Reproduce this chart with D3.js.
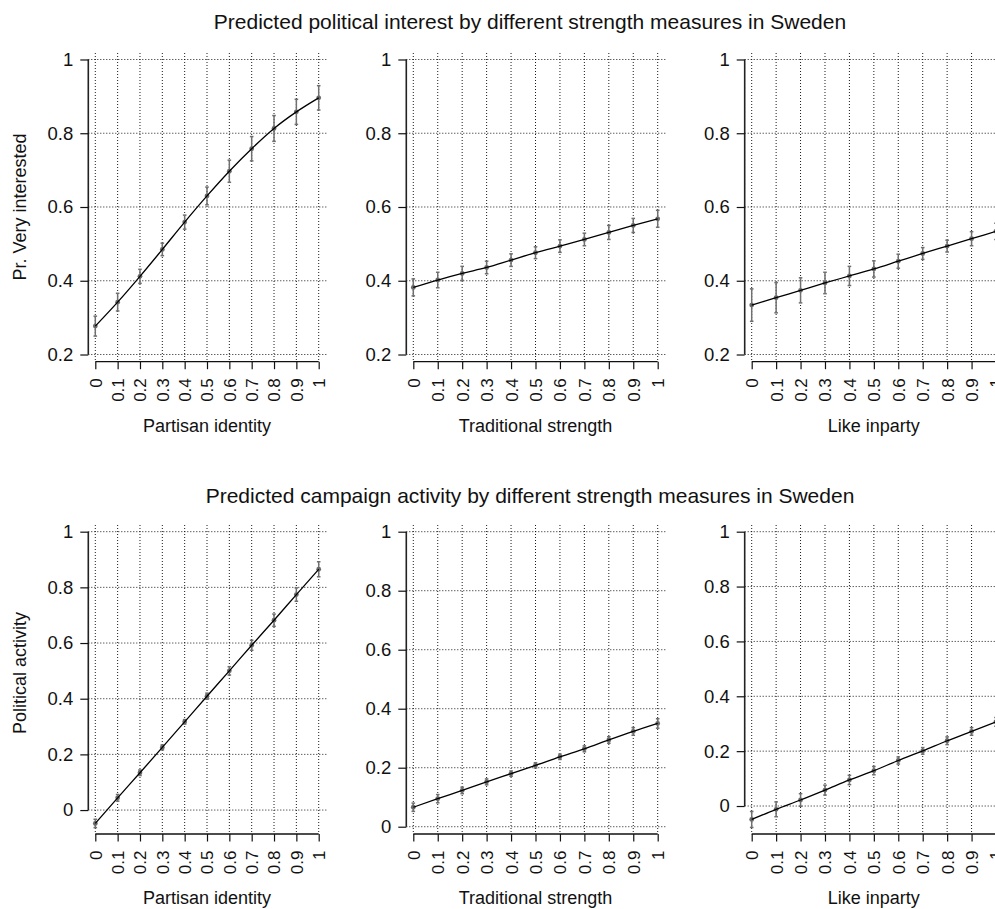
<!DOCTYPE html>
<html>
<head>
<meta charset="utf-8">
<script src="https://cdn.jsdelivr.net/npm/d3@7"></script>
<style>
  body { margin: 0; background: #fff; }
  svg text { font-family: "Liberation Sans", Arial, Helvetica, sans-serif; fill: #111; }
</style>
</head>
<body>
<div id="chart"></div>
<script>
// predicted values at strength = 0, 0.1, ..., 1
const strength = [0, 0.1, 0.2, 0.3, 0.4, 0.5, 0.6, 0.7, 0.8, 0.9, 1]
const strengthLabels = ['0', '0.1', '0.2', '0.3', '0.4', '0.5', '0.6', '0.7', '0.8', '0.9', '1']

const rowTitles = [
  'Predicted political interest by different strength measures in Sweden',
  'Predicted campaign activity by different strength measures in Sweden'
]
const rowYLabels = ['Pr. Very interested', 'Political activity']
const colXLabels = ['Partisan identity', 'Traditional strength', 'Like inparty']

const yTicksTop = [0.2, 0.4, 0.6, 0.8, 1]
const yTickLabelsTop = ['0.2', '0.4', '0.6', '0.8', '1']
const yTicksBottom = [0, 0.2, 0.4, 0.6, 0.8, 1]
const yTickLabelsBottom = ['0', '0.2', '0.4', '0.6', '0.8', '1']

// political interest
const interestPartisan = [0.277, 0.342, 0.412, 0.485, 0.559, 0.630, 0.697, 0.758, 0.813, 0.858, 0.896]
const interestPartisanErr = [0.027, 0.024, 0.019, 0.017, 0.019, 0.024, 0.030, 0.033, 0.035, 0.034, 0.033]
const interestTraditional = [0.382, 0.402, 0.420, 0.436, 0.456, 0.476, 0.494, 0.512, 0.531, 0.550, 0.568]
const interestTraditionalErr = [0.023, 0.021, 0.019, 0.017, 0.017, 0.016, 0.017, 0.017, 0.019, 0.019, 0.023]
const interestLike = [0.334, 0.354, 0.374, 0.394, 0.413, 0.432, 0.453, 0.474, 0.494, 0.514, 0.534]
const interestLikeErr = [0.044, 0.041, 0.034, 0.029, 0.026, 0.022, 0.019, 0.016, 0.016, 0.019, 0.022]

// campaign activity
const activityPartisan = [-0.048, 0.044, 0.134, 0.225, 0.317, 0.409, 0.500, 0.592, 0.682, 0.774, 0.865]
const activityPartisanErr = [0.015, 0.012, 0.010, 0.009, 0.008, 0.011, 0.015, 0.018, 0.022, 0.024, 0.027]
const activityTraditional = [0.066, 0.095, 0.123, 0.152, 0.180, 0.208, 0.237, 0.264, 0.294, 0.323, 0.350]
const activityTraditionalErr = [0.014, 0.014, 0.011, 0.010, 0.009, 0.009, 0.009, 0.010, 0.011, 0.013, 0.016]
const activityLike = [-0.049, -0.012, 0.022, 0.058, 0.095, 0.129, 0.166, 0.201, 0.238, 0.272, 0.307]
const activityLikeErr = [0.029, 0.027, 0.023, 0.018, 0.017, 0.015, 0.013, 0.012, 0.014, 0.014, 0.016]

const width = 995
const height = 909

// pixel layout
const cols = [
  { x0: 95.3, x1: 318.7 },
  { x0: 413.3, x1: 657.7 },
  { x0: 751.7, x1: 996 }
]
const rows = [
  { top: 53, bottom: 361.7, titleY: 29, yLabelY: 207 },
  { top: 525, bottom: 834, titleY: 503, yLabelY: 673 }
]

const panels = [
  { row: 0, col: 0, values: interestPartisan, err: interestPartisanErr, domain: [0.1805, 1.0176], ticks: yTicksTop, tickLabels: yTickLabelsTop },
  { row: 0, col: 1, values: interestTraditional, err: interestTraditionalErr, domain: [0.1805, 1.0176], ticks: yTicksTop, tickLabels: yTickLabelsTop },
  { row: 0, col: 2, values: interestLike, err: interestLikeErr, domain: [0.1805, 1.0176], ticks: yTicksTop, tickLabels: yTickLabelsTop },
  { row: 1, col: 0, values: activityPartisan, err: activityPartisanErr, domain: [-0.086, 1.024], ticks: yTicksBottom, tickLabels: yTickLabelsBottom },
  { row: 1, col: 1, values: activityTraditional, err: activityTraditionalErr, domain: [-0.0247, 1.0227], ticks: yTicksBottom, tickLabels: yTickLabelsBottom },
  { row: 1, col: 2, values: activityLike, err: activityLikeErr, domain: [-0.102, 1.0244], ticks: yTicksBottom, tickLabels: yTickLabelsBottom }
]

const svg = d3.select('#chart')
  .append('svg')
  .attr('width', width)
  .attr('height', height)

rows.forEach((r, i) => {
  svg.append('text')
    .attr('x', 530)
    .attr('y', r.titleY)
    .attr('text-anchor', 'middle')
    .style('font-size', '21px')
    .text(rowTitles[i])

  svg.append('text')
    .attr('transform', `translate(26, ${r.yLabelY}) rotate(-90)`)
    .attr('text-anchor', 'middle')
    .style('font-size', '18px')
    .text(rowYLabels[i])
})

panels.forEach(p => {
  const c = cols[p.col]
  const r = rows[p.row]
  const axisX = c.x0 - 7
  const rightX = c.x1 + 8

  const x = d3.scaleLinear([0, 1], [c.x0, c.x1])
  const y = d3.scaleLinear(p.domain, [r.bottom, r.top])

  const g = svg.append('g')

  // dotted grid
  g.append('g')
    .selectAll('line')
    .data(strength)
    .enter()
    .append('line')
    .attr('x1', d => x(d))
    .attr('x2', d => x(d))
    .attr('y1', r.top)
    .attr('y2', r.bottom)
    .attr('stroke', '#000')
    .attr('stroke-width', 0.9)
    .attr('stroke-dasharray', '1,2')

  g.append('g')
    .selectAll('line')
    .data(p.ticks)
    .enter()
    .append('line')
    .attr('x1', axisX)
    .attr('x2', rightX)
    .attr('y1', d => y(d))
    .attr('y2', d => y(d))
    .attr('stroke', '#000')
    .attr('stroke-width', 0.9)
    .attr('stroke-dasharray', '1,2')

  // y axis
  const yAxis = g.append('g')
    .attr('transform', `translate(${axisX}, 0)`)
    .call(d3.axisLeft(y)
      .tickValues(p.ticks)
      .tickSize(8)
      .tickPadding(7)
      .tickFormat((d, i) => p.tickLabels[i]))
  yAxis.select('.domain')
    .attr('d', `M0,${y(p.ticks[0])}V${y(p.ticks[p.ticks.length - 1])}`)
    .attr('stroke', '#222')
    .attr('stroke-width', 1.6)
  yAxis.selectAll('.tick line').attr('stroke', '#111').attr('stroke-width', 1.2)
  yAxis.selectAll('.tick text')
    .style('font-size', '18.5px')
    .attr('fill', '#111')

  // x axis
  const xAxis = g.append('g')
    .attr('transform', `translate(0, ${r.bottom})`)
    .call(d3.axisBottom(x)
      .tickValues(strength)
      .tickSize(7.5)
      .tickFormat(''))
  xAxis.select('.domain')
    .attr('d', `M${x(0)},0H${x(1)}`)
    .attr('stroke', '#111')
    .attr('stroke-width', 1.3)
  xAxis.selectAll('.tick line').attr('stroke', '#111').attr('stroke-width', 1.2)
  xAxis.selectAll('.tick')
    .append('text')
    .attr('transform', 'translate(0, 16.5) rotate(-90)')
    .attr('text-anchor', 'end')
    .attr('dy', '0.35em')
    .attr('fill', '#111')
    .style('font-size', '17px')
    .text((d, i) => strengthLabels[i])

  g.append('text')
    .attr('x', (c.x0 + c.x1) / 2)
    .attr('y', r.bottom + 70)
    .attr('text-anchor', 'middle')
    .style('font-size', '18px')
    .text(colXLabels[p.col])

  // confidence intervals
  const bars = g.append('g')
    .selectAll('g')
    .data(strength)
    .enter()
    .append('g')
    .attr('stroke', '#707070')
    .attr('stroke-width', 1.5)

  bars.append('line')
    .attr('x1', d => x(d))
    .attr('x2', d => x(d))
    .attr('y1', (d, i) => y(p.values[i] - p.err[i]))
    .attr('y2', (d, i) => y(p.values[i] + p.err[i]))

  bars.append('line')
    .attr('x1', d => x(d) - 1.8)
    .attr('x2', d => x(d) + 1.8)
    .attr('y1', (d, i) => y(p.values[i] - p.err[i]))
    .attr('y2', (d, i) => y(p.values[i] - p.err[i]))

  bars.append('line')
    .attr('x1', d => x(d) - 1.8)
    .attr('x2', d => x(d) + 1.8)
    .attr('y1', (d, i) => y(p.values[i] + p.err[i]))
    .attr('y2', (d, i) => y(p.values[i] + p.err[i]))

  g.append('g')
    .selectAll('circle')
    .data(strength)
    .enter()
    .append('circle')
    .attr('cx', d => x(d))
    .attr('cy', (d, i) => y(p.values[i]))
    .attr('r', 2.4)
    .attr('fill', '#6a6a6a')

  g.append('path')
    .datum(strength)
    .attr('fill', 'none')
    .attr('stroke', '#000')
    .attr('stroke-width', 1.3)
    .attr('d', d3.line()
      .x(d => x(d))
      .y((d, i) => y(p.values[i]))
      .curve(d3.curveMonotoneX))
})
</script>
</body>
</html>
